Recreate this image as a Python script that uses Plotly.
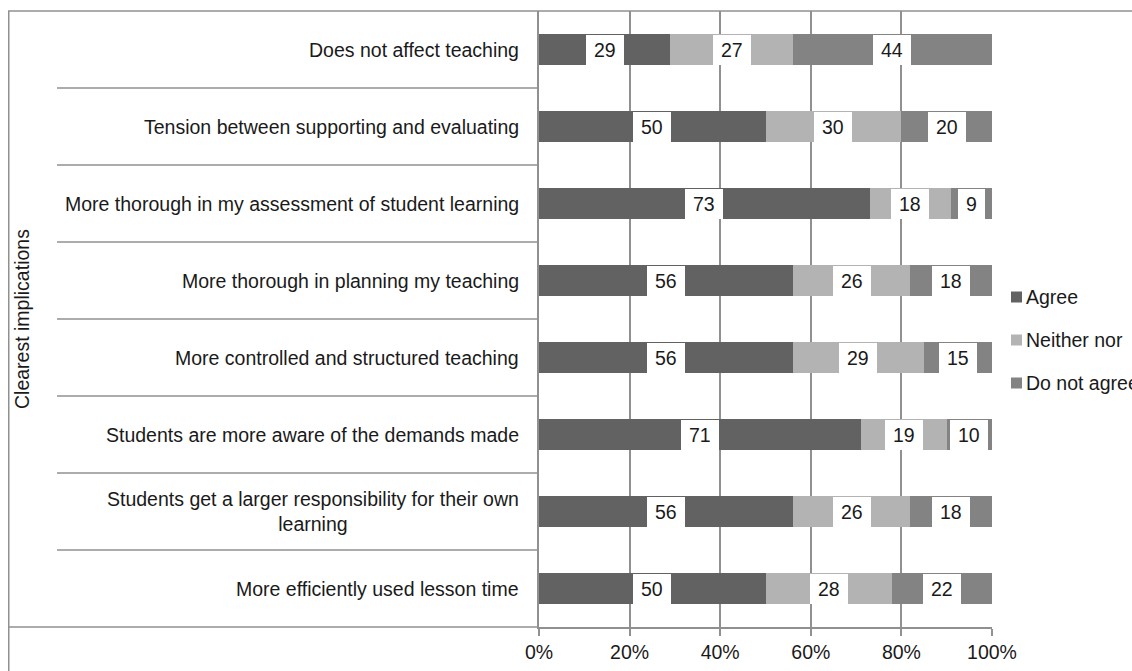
import plotly.graph_objects as go

# ---- data (top to bottom as shown) ----
categories = [
    "Does not affect teaching",
    "Tension between supporting and evaluating",
    "More thorough in my assessment of student learning",
    "More thorough in planning my teaching",
    "More controlled and structured teaching",
    "Students are more aware of the demands made",
    "Students get a larger responsibility for their own<br>learning",
    "More efficiently used lesson time",
]
agree = [29, 50, 73, 56, 56, 71, 56, 50]
neither = [27, 30, 18, 26, 29, 19, 26, 28]
disagree = [44, 20, 9, 18, 15, 10, 18, 22]
series_names = ["Agree", "Neither nor", "Do not agree"]
axis_title = "Clearest implications"
x_ticks = [0, 20, 40, 60, 80, 100]
x_ticklabels = ["0%", "20%", "40%", "60%", "80%", "100%"]

colors = ["#626262", "#b3b3b3", "#838383"]
FONT = "Liberation Sans, Arial, sans-serif"
FS = 19.5
TXT = "#1a1a1a"
GRID = "#909090"

# the page margin is removed below, so figure pixels == page pixels
OFF = 0
PAGE_W, PAGE_H = 1132, 671
W = PAGE_W
H = PAGE_H
# plot area in page pixels: x 539..992, y 11..627
L = 539 - OFF
T = 11 - OFF
R = W - (992 - OFF)
B = H - (627 - OFF)
PW = W - L - R
PH = H - T - B


def px_x(p):
    """page pixel x -> paper x"""
    return (p - OFF - L) / PW


def px_y(p):
    """page pixel y -> paper y"""
    return (H - B - (p - OFF)) / PH


fig = go.Figure()
series = [agree, neither, disagree]
for name, vals, col in zip(series_names, series, colors):
    fig.add_trace(go.Bar(
        y=categories, x=vals, name=name, orientation="h",
        marker=dict(color=col, line=dict(width=0)), width=0.39,
        showlegend=False, hoverinfo="x+name",
    ))

annotations = []
# data labels with white boxes
for j, cat in enumerate(categories):
    start = 0
    for vals in series:
        v = vals[j]
        txt = str(v)
        annotations.append(dict(
            x=start + v / 2, y=cat, xref="x", yref="y", text=txt,
            showarrow=False, bgcolor="white", width=10.8 * len(txt) + 16,
            height=30, borderpad=0, borderwidth=0,
            font=dict(family=FONT, size=FS, color=TXT),
        ))
        start += v

# category labels
for cat in categories:
    annotations.append(dict(
        x=0, y=cat, xref="paper", yref="y", text=cat, showarrow=False,
        xanchor="right", align="center", xshift=-18,
        font=dict(family=FONT, size=FS, color=TXT),
    ))

# outer group title
annotations.append(dict(
    x=px_x(22), y=0.5, xref="paper", yref="paper", text=axis_title,
    showarrow=False, textangle=-90, xanchor="center", yanchor="middle",
    font=dict(family=FONT, size=FS, color=TXT),
))

shapes = []
line_style = dict(color=GRID, width=1.5)
# outer frame top & left
shapes.append(dict(type="line", xref="paper", yref="paper",
                   x0=px_x(8), x1=px_x(PAGE_W + 2), y0=1, y1=1, line=line_style))
shapes.append(dict(type="line", xref="paper", yref="paper",
                   x0=px_x(8.75), x1=px_x(8.75), y0=1, y1=px_y(PAGE_H + 2),
                   line=line_style))
# bottom line extension across category area
shapes.append(dict(type="line", xref="paper", yref="paper",
                   x0=px_x(8), x1=0, y0=0, y1=0, line=line_style))
# category separators
for j in range(len(categories) - 1):
    shapes.append(dict(type="line", xref="paper", yref="y",
                       x0=px_x(57), x1=0, y0=j + 0.5, y1=j + 0.5, line=line_style))

# legend (drawn as keys + texts, placed like the reference)
legend_rows = [297, 340, 383]
for name, col, yrow in zip(series_names, colors, legend_rows):
    shapes.append(dict(type="rect", xref="paper", yref="paper",
                       x0=px_x(1011), x1=px_x(1022),
                       y0=px_y(yrow + 5.5), y1=px_y(yrow - 5.5),
                       fillcolor=col, line=dict(width=0)))
    annotations.append(dict(
        x=px_x(1024), y=px_y(yrow), xref="paper", yref="paper", text=name,
        showarrow=False, xanchor="left", yanchor="middle", align="left",
        font=dict(family=FONT, size=FS, color=TXT),
    ))

fig.update_layout(
    width=W, height=H,
    margin=dict(l=L, r=R, t=T, b=B, pad=0, autoexpand=False),
    barmode="stack",
    plot_bgcolor="white", paper_bgcolor="white",
    font=dict(family=FONT, size=FS, color=TXT),
    showlegend=False,
    xaxis=dict(
        range=[0, 100], tickvals=x_ticks, ticktext=x_ticklabels,
        showgrid=True, gridcolor=GRID, gridwidth=1.5,
        zeroline=False, showline=True, linecolor=GRID, linewidth=1.5,
        ticks="outside", ticklen=7, tickcolor=GRID, tickwidth=1.5,
        tickfont=dict(family=FONT, size=FS, color=TXT),
    ),
    yaxis=dict(
        range=[len(categories) - 0.5, -0.5], showticklabels=False,
        showgrid=False, zeroline=False, showline=True, linecolor=GRID,
        linewidth=1.5, ticks="",
    ),
    annotations=annotations,
    shapes=shapes,
)

fig.write_html(
    "out.html",
    config={"displayModeBar": False},
    post_script="document.body.style.margin='0';"
                "document.documentElement.style.overflow='hidden';",
)
